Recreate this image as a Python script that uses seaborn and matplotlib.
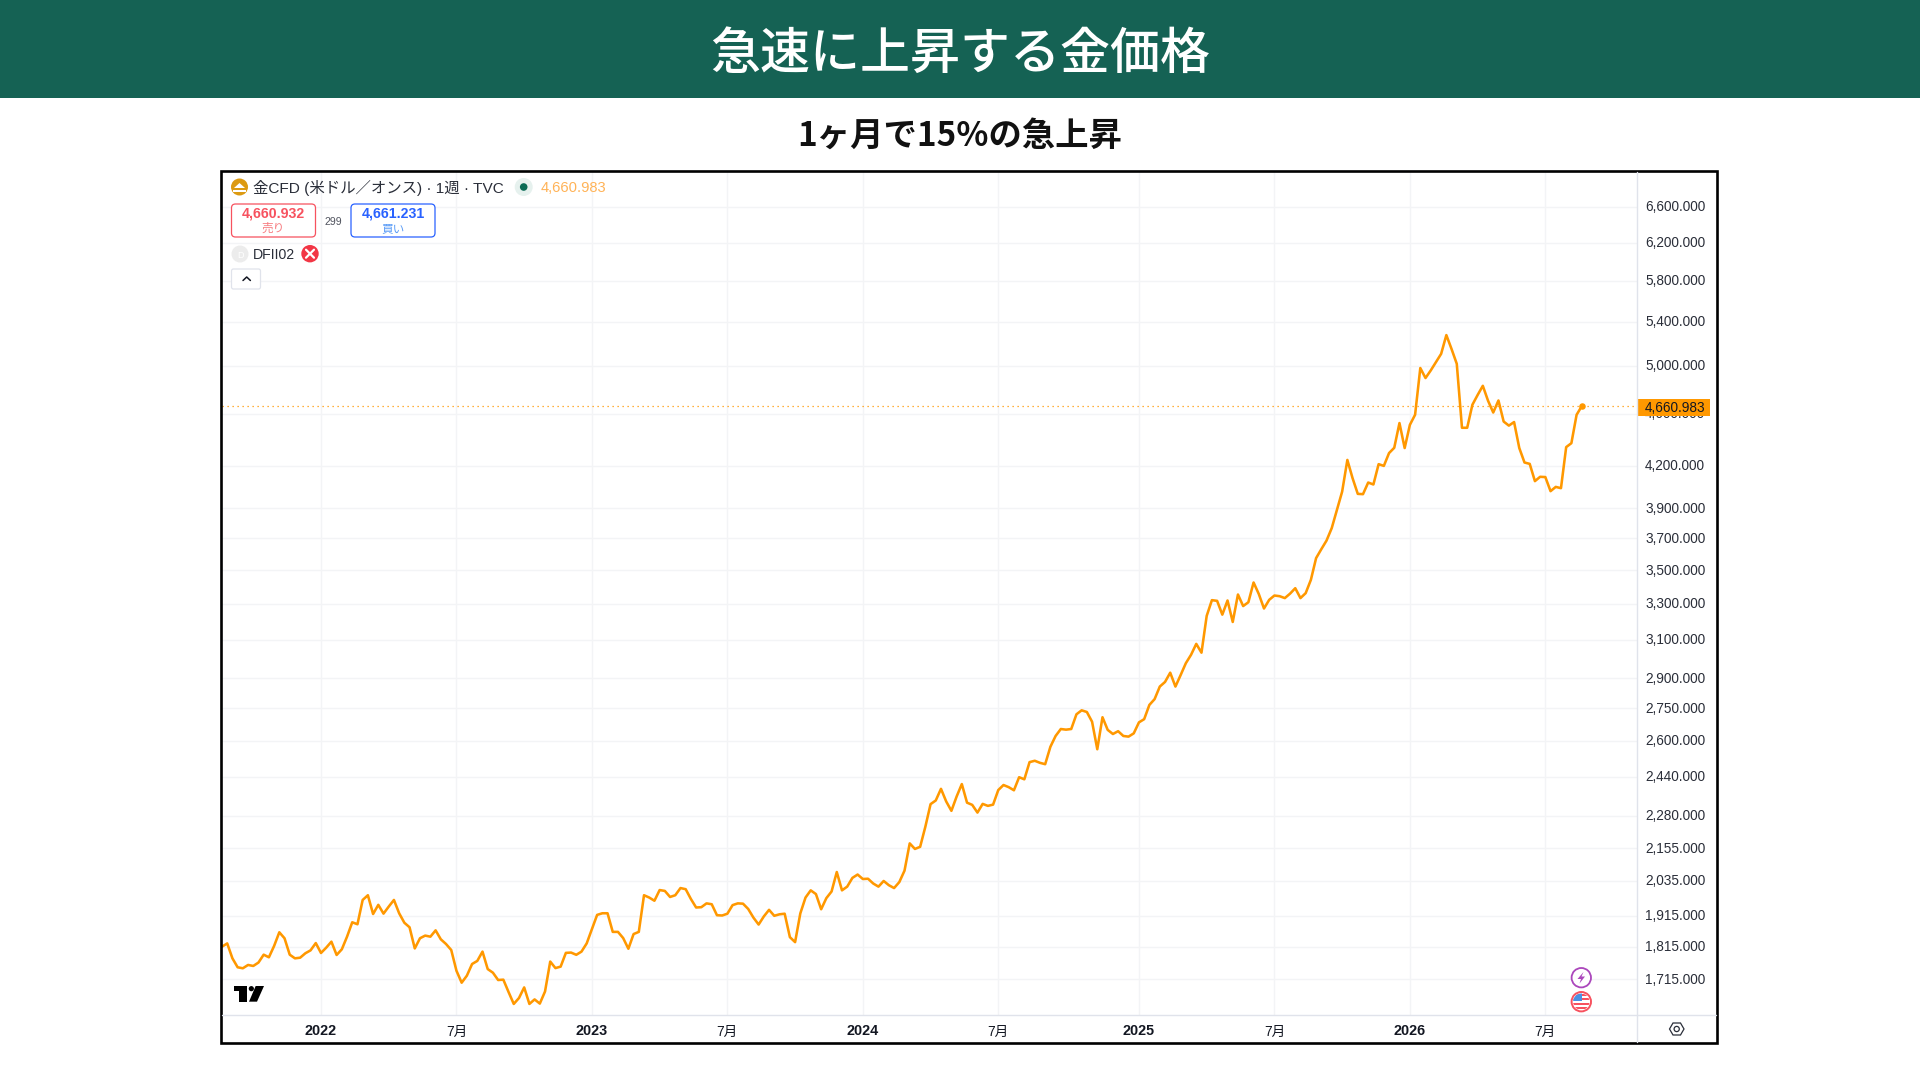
import matplotlib
matplotlib.use("Agg")
import matplotlib.pyplot as plt
import pandas as pd
import seaborn as sns
from matplotlib.patches import Circle, FancyBboxPatch, Polygon, Rectangle
from matplotlib.transforms import ScaledTranslation

# ---- data (weekly close) ----
prices_a = [1814.6, 1824.9, 1778, 1750.5, 1747.4, 1757.6, 1754.5, 1765, 1789.4, 1781.2, 1816.8, 1860.7, 1841.4, 1789.4, 1778,
            1780, 1793.8, 1803, 1826, 1794.7, 1811.4, 1830.5, 1788.5, 1806.3, 1846.5, 1893.5, 1887, 1968.7, 1985, 1921,
            1952, 1922.3, 1946, 1968.7, 1923.5, 1892, 1877, 1809, 1841.4, 1850, 1846.5, 1867, 1838, 1823, 1804]
prices_b = [1740, 1704, 1725, 1760.5, 1770, 1799, 1745, 1734, 1712, 1713, 1676.5, 1642, 1659, 1690, 1642,
            1655, 1643, 1678, 1768, 1748, 1752.5, 1795, 1796, 1789, 1799, 1825, 1871, 1918, 1923.5, 1923.5,
            1862, 1862, 1842, 1808, 1855, 1862, 1985, 1977, 1966, 2003, 2000, 1979, 1985, 2010]
prices_c = [2006, 1972, 1943, 1944, 1957, 1954, 1917, 1916, 1922, 1951, 1957, 1956, 1938, 1909, 1886,
            1913, 1935, 1915, 1920, 1922, 1845, 1829, 1923, 1977, 2002, 1989, 1937, 1975, 1998, 2067,
            2002, 2015, 2046, 2058, 2042, 2043, 2026, 2015, 2035, 2020, 2010, 2031, 2072]
prices_d = [2173, 2152, 2160, 2237, 2327, 2342, 2390, 2338, 2300, 2358, 2410, 2333, 2324, 2293, 2328,
            2320, 2325, 2385, 2406, 2397, 2384, 2439, 2430, 2504, 2510, 2501, 2495, 2572, 2621, 2653,
            2650, 2653, 2722, 2741, 2733, 2687, 2561, 2708, 2649, 2630, 2643, 2621, 2618, 2633, 2684]
prices_e = [2699, 2767, 2795, 2857, 2880, 2927, 2857, 2915, 2976, 3020, 3078, 3031, 3232, 3322, 3318,
            3239, 3320, 3198, 3355, 3288, 3310, 3426, 3358, 3274, 3324, 3349, 3345, 3334, 3360, 3392,
            3334, 3363, 3442, 3575, 3631, 3686, 3767, 3889, 4015]
prices_f = [4243, 4110, 3999, 3997, 4079, 4065, 4212, 4199, 4294, 4334, 4525, 4332, 4511, 4591, 4981]
prices_g = [4895, 4960, 5033, 5106, 5276, 5149, 5018, 4488, 4488, 4672, 4752, 4829, 4705, 4609, 4707,
            4537, 4505, 4533, 4332, 4224, 4214, 4089, 4120, 4118, 4018, 4048, 4039, 4339, 4369, 4591, 4660.983]
first_week = "2021-08-23"
last_price = 4660.983
price_ticks = [1715, 1815, 1915, 2035, 2155, 2280, 2440, 2600, 2750, 2900, 3100, 3300, 3500, 3700,
               3900, 4200, 4600, 5000, 5400, 5800, 6200, 6600]
time_ticks = [("2022-01-03", "2022"), ("2022-07-04", "7月"), ("2023-01-02", "2023"), ("2023-07-03", "7月"),
              ("2024-01-01", "2024"), ("2024-07-01", "7月"), ("2025-01-06", "2025"), ("2025-07-07", "7月"),
              ("2026-01-05", "2026"), ("2026-07-06", "7月")]
title = "急速に上昇する金価格"
subtitle = "1ヶ月で15%の急上昇"
legend_name = "金CFD (米ドル／オンス) · 1週 · TVC"
sell_price, buy_price, spread = "4,660.932", "4,661.231", "299"

prices = prices_a + prices_b + prices_c + prices_d + prices_e + prices_f + prices_g
weeks = pd.date_range(first_week, periods=len(prices), freq="7D")
df = pd.DataFrame({"bar": range(len(prices)), "week": weeks, "price": prices})

# ---- styling ----
sns.set_theme(style="white")
UI = ["Liberation Sans", "Noto Sans CJK JP", "DejaVu Sans"]
JP = ["Noto Sans CJK JP", "DejaVu Sans"]
plt.rcParams["font.family"] = UI
TEAL, ORANGE, GRID, AXIS, INK = "#156254", "#ff9800", "#f3f4f6", "#e0e3eb", "#131722"
W, H = 1920, 1080

fig = plt.figure(figsize=(W / 100, H / 100), dpi=100, facecolor="white")

# ---- chart ----
L, R, T, B = 222, 1636.7, 172, 1015
ax = fig.add_axes([L / W, 1 - B / H, (R - L) / W, (B - T) / H])
sns.lineplot(data=df, x="bar", y="price", ax=ax, color=ORANGE, linewidth=1.85, estimator=None,
             errorbar=None, zorder=4)
ax.set_yscale("log")
ax.set_ylim(1610.6, 7013)
ax.set_xlim(0, (R - L) / 5.21)
ax.axhline(last_price, color=ORANGE, lw=0.9, ls=(0, (1, 3)), zorder=3)
ax.scatter(df["bar"].iloc[-1:], df["price"].iloc[-1:], s=22, color=ORANGE, zorder=5, linewidths=0)

ax.minorticks_off()
ax.yaxis.tick_right()
ax.set_yticks(price_ticks)
ax.set_yticklabels([f"{v:,.3f}" for v in price_ticks], fontsize=9.8, color="#2a2e39")
bars = [int(df.loc[df["week"] == pd.Timestamp(d), "bar"].iloc[0]) for d, _ in time_ticks]
ax.set_xticks(bars)
ax.set_xticklabels([t for _, t in time_ticks], fontsize=9.8, color=INK)
for lab in ax.get_xticklabels():
    if lab.get_text().isdigit():
        lab.set_fontweight("bold")
        lab.set_fontsize(10.4)
ax.tick_params(axis="y", length=0, pad=6)
ax.tick_params(axis="x", length=0, pad=6.8)
nudge = ScaledTranslation(0, 1.0 / 100, fig.dpi_scale_trans)
for lab in ax.get_yticklabels():
    lab.set_transform(lab.get_transform() + nudge)
ax.set_xlabel("")
ax.set_ylabel("")
ax.grid(True, color=GRID, lw=1.0)
ax.set_axisbelow(True)
for s in ax.spines.values():
    s.set_visible(False)

# ---- page furniture in pixel coordinates ----
ov = fig.add_axes([0, 0, 1, 1], zorder=10)
ov.set_xlim(0, W)
ov.set_ylim(H, 0)
ov.axis("off")
ov.patch.set_alpha(0)

ov.add_patch(Rectangle((0, 0), W, 98, color=TEAL, lw=0))
ov.text(960, 54.5, title, color="white", fontsize=36, ha="center", va="center", family=JP, fontweight="medium")
ov.text(960, 136.5, subtitle, color="#111111", fontsize=24, ha="center", va="center", family=JP, fontweight="bold")

# frame and axis separators
ov.plot([L, 1716], [B, B], color=AXIS, lw=1)
ov.plot([R, R], [172, 1042], color=AXIS, lw=1)
ov.add_patch(Rectangle((221, 170.8), 1496, 871.7, fill=False, ec="black", lw=1.9))

# last price tag
ov.add_patch(Rectangle((R, 398.5), 73.5, 17, color=ORANGE, lw=0))
ov.text(1645, 406.5, f"{last_price:,.3f}", fontsize=9.8, color=INK, ha="left", va="center_baseline")

# legend row
ov.add_patch(Circle((239.5, 187), 8.5, color="#dc9a12", lw=0))
ov.add_patch(Polygon([(234, 188), (239.5, 183), (245, 188)], color="white", lw=0))
ov.add_patch(Rectangle((233, 189.5), 13, 2, color="white", lw=0))
ov.text(253, 186.5, legend_name, fontsize=11.1, color="#2a2e39", ha="left", va="center_baseline")
ov.add_patch(Circle((523.7, 187), 9, color="#e6f1ee", lw=0))
ov.add_patch(Circle((523.7, 187), 3.8, color="#0b6b55", lw=0))
ov.text(540.5, 187, f"{last_price:,.3f}", fontsize=10.6, color="#ffb357", ha="left", va="center_baseline")

# sell / buy boxes
for x0, col, soft, price, word in [(231.5, "#f7525f", "#f77c80", sell_price, "売り"),
                                   (351, "#2962ff", "#5b9cf6", buy_price, "買い")]:
    ov.add_patch(FancyBboxPatch((x0 + 3, 207), 78, 27, boxstyle="round,pad=3,rounding_size=4",
                                fc="white", ec=col, lw=0.9))
    ov.text(x0 + 42, 212.5, price, fontsize=10.2, fontweight="bold", color=col, ha="center", va="center_baseline")
    ov.text(x0 + 42, 227, word, fontsize=8.4, color=soft, ha="center", va="center_baseline", family=JP)
ov.text(333.5, 221, spread, fontsize=7.6, color="#50535e", ha="center", va="center_baseline")

# indicator row
ov.add_patch(Circle((240, 254), 8.5, color="#ececec", lw=0))
ov.text(240, 254.5, "D", fontsize=6.5, color="white", ha="center", va="center_baseline")
ov.text(253, 253.2, "DFII02", fontsize=10.2, color="#2a2e39", ha="left", va="center_baseline")
ov.add_patch(Circle((310, 253.7), 8.7, color="#f23645", lw=0))
ov.plot([306, 314], [249.7, 257.7], color="white", lw=1.6)
ov.plot([306, 314], [257.7, 249.7], color="white", lw=1.6)

# collapse button
ov.add_patch(FancyBboxPatch((233.5, 271), 25, 16, boxstyle="round,pad=2,rounding_size=2",
                            fc="white", ec=AXIS, lw=0.9))
ov.plot([243, 246.7, 250.4], [280.5, 277, 280.5], color="#131722", lw=1.1)

# watermark logo
lx = lambda z: 222 + z / 3
ly = lambda z: 880 + z / 3
ov.add_patch(Polygon([(lx(a), ly(b)) for a, b in [(35, 318), (74, 318), (74, 365), (52, 365), (52, 334), (35, 334)]],
                     color="black", lw=0))
ov.add_patch(Circle((lx(88), ly(326)), 2.6, color="black", lw=0))
ov.add_patch(Polygon([(lx(a), ly(b)) for a, b in [(101, 318), (126, 318), (105, 365), (81, 365)]],
                     color="black", lw=0))

# event markers
ov.add_patch(Circle((1581.3, 977.7), 9.7, fc="white", ec="#ab47bc", lw=1.3))
ov.add_patch(Polygon([(1583.5, 972), (1577.5, 979), (1581, 979), (1579.5, 983.5), (1585, 976.5), (1581.5, 976.5)],
                     color="#ab47bc", lw=0))
flag = Circle((1581.3, 1001.7), 8.2, fc="white", ec="none", transform=ov.transData)
ov.add_patch(flag)
for i, y0 in enumerate([993.5, 998, 1002.5, 1007]):
    r = ov.add_patch(Rectangle((1573, y0), 17, 2.2, color="#f7525f", lw=0))
    r.set_clip_path(flag)
can = ov.add_patch(Rectangle((1573, 993), 9, 8.2, color="#4a90e2", lw=0))
can.set_clip_path(flag)
ov.add_patch(Circle((1581.3, 1001.7), 9.7, fill=False, ec="#f7525f", lw=1.4))

# settings icon
ov.add_patch(Polygon([(1669.5, 1029), (1673, 1023), (1680.5, 1023), (1684, 1029), (1680.5, 1035), (1673, 1035)],
                     fill=False, ec="#2a2e39", lw=0.9))
ov.add_patch(Circle((1676.7, 1029), 2.6, fill=False, ec="#2a2e39", lw=0.9))

fig.savefig("out.png", dpi=100, facecolor="white")
